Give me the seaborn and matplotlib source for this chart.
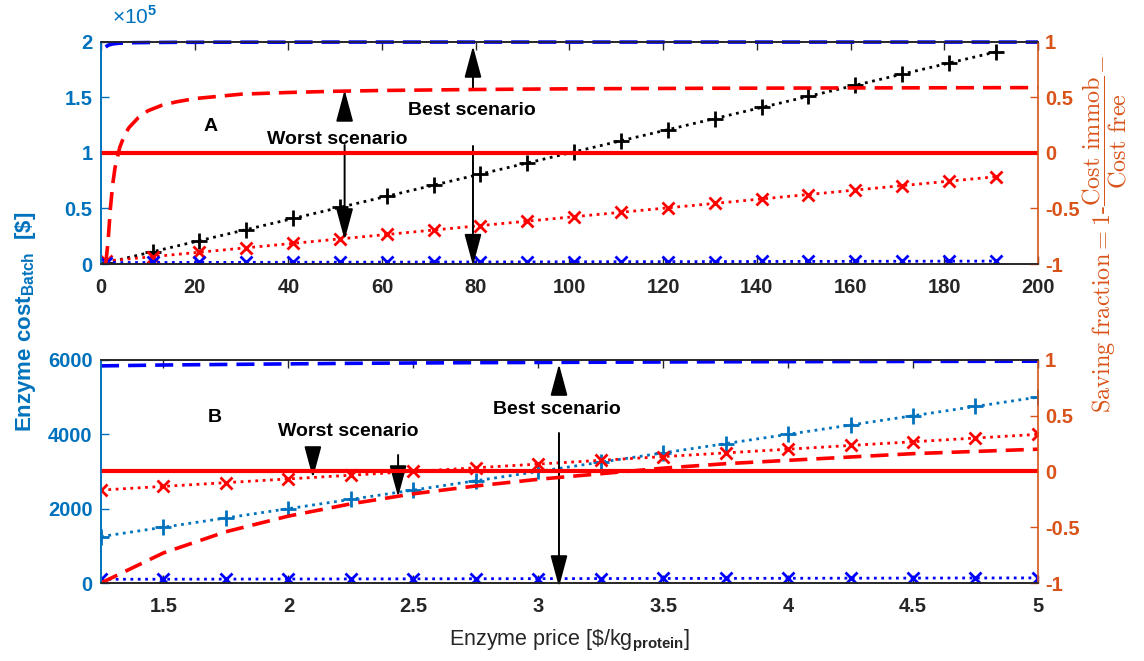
import matplotlib
matplotlib.use('Agg')
import matplotlib.pyplot as plt
from matplotlib.ticker import FuncFormatter
import seaborn as sns

# ---- panel A: enzyme price 0-200 $/kg ----
price_a = [1, 11, 21, 31, 41, 51, 61, 71, 81, 91, 101, 111, 121, 131, 141, 151, 161, 171, 181, 191]
cost_free_a = [1000, 11000, 21000, 31000, 41000, 51000, 61000, 71000, 81000, 91000,
               101000, 111000, 121000, 131000, 141000, 151000, 161000, 171000, 181000, 191000]
cost_worst_a = [2600, 6600, 10600, 14600, 18600, 22600, 26600, 30600, 34600, 38600,
                42600, 46600, 50600, 54600, 58600, 62600, 66600, 70600, 74600, 78600]
cost_best_a = [1300, 1370, 1440, 1500, 1570, 1640, 1710, 1780, 1850, 1910,
               1980, 2050, 2120, 2190, 2260, 2320, 2390, 2460, 2530, 2600]
curve_a = [1, 1.5, 2, 2.5, 3, 4, 5, 6, 8, 10, 13, 16, 20, 25, 30, 40, 50, 60, 80, 100, 130, 160, 200]
saving_worst_a = [-1.0, -0.8, -0.5, -0.28, -0.13, 0.05, 0.16, 0.23, 0.32, 0.38, 0.43, 0.46,
                  0.49, 0.51, 0.53, 0.545, 0.556, 0.563, 0.572, 0.578, 0.583, 0.586, 0.589]
saving_best_a = [0.955, 0.97, 0.977, 0.982, 0.985, 0.989, 0.991, 0.993, 0.994, 0.995, 0.996, 0.997,
                 0.997, 0.998, 0.998, 0.998, 0.999, 0.999, 0.999, 0.999, 0.999, 0.999, 0.999]

# ---- panel B: enzyme price 1.25-5 $/kg ----
price_b = [1.25, 1.5, 1.75, 2, 2.25, 2.5, 2.75, 3, 3.25, 3.5, 3.75, 4, 4.25, 4.5, 4.75, 5]
cost_free_b = [1250, 1500, 1750, 2000, 2250, 2500, 2750, 3000, 3250, 3500, 3750, 4000, 4250, 4500, 4750, 5000]
cost_worst_b = [2500, 2600, 2700, 2800, 2900, 3000, 3100, 3200, 3300, 3400, 3500, 3600, 3700, 3800, 3900, 4000]
cost_best_b = [100, 102, 105, 107, 110, 112, 115, 117, 120, 122, 125, 127, 130, 132, 135, 137]
saving_worst_b = [-1.0, -0.73, -0.54, -0.4, -0.29, -0.2, -0.13, -0.07, -0.02, 0.03, 0.07, 0.1, 0.13, 0.16, 0.18, 0.2]
saving_best_b = [0.947, 0.955, 0.96, 0.965, 0.97, 0.973, 0.976, 0.978, 0.98, 0.982, 0.984, 0.985,
                 0.986, 0.987, 0.988, 0.989]

BLUE_AX = '#0072BD'
ORANGE = '#D95319'
RED = '#FF0000'
BLUE = '#0000FF'
DARK = '#262626'

sns.set_theme(style='white')
plt.rcParams['font.family'] = ['Liberation Sans', 'DejaVu Sans']
plt.rcParams['font.weight'] = 'bold'
plt.rcParams['axes.unicode_minus'] = False
plt.rcParams['mathtext.fontset'] = 'custom'
plt.rcParams['mathtext.rm'] = 'Liberation Sans'
plt.rcParams['mathtext.bf'] = 'Liberation Sans:bold'

fig = plt.figure(figsize=(11.44, 6.61), dpi=100)
ax_a = fig.add_axes([0.0883, 0.6006, 0.819, 0.3359])
ax_b = fig.add_axes([0.0883, 0.1180, 0.819, 0.3374])

DASH = (0, (5, 2.5))


def draw_panel(ax, price, free, worst, best, curve, sav_worst, sav_best, free_color):
    mk = dict(linestyle=':', linewidth=2.0, markeredgewidth=2.0)
    sns.lineplot(x=price, y=free, ax=ax, color=free_color, marker='+', markersize=11,
                 markeredgecolor=free_color, **mk)
    sns.lineplot(x=price, y=worst, ax=ax, color=RED, marker='x', markersize=8.5,
                 markeredgecolor=RED, **mk)
    sns.lineplot(x=price, y=best, ax=ax, color=BLUE, marker='x', markersize=8.5,
                 markeredgecolor=BLUE, **mk)

    ax2 = ax.twinx()
    ax2.axhline(0, color=RED, linewidth=3)
    sns.lineplot(x=curve, y=sav_worst, ax=ax2, color=RED, linestyle=DASH, linewidth=2.6)
    sns.lineplot(x=curve, y=sav_best, ax=ax2, color=BLUE, linestyle=DASH, linewidth=2.6,
                 clip_on=False)
    ax2.set_ylim(-1, 1)
    ax2.set_yticks([-1, -0.5, 0, 0.5, 1])
    ax2.yaxis.set_major_formatter(FuncFormatter(lambda v, p: f'{v:g}'))

    # MATLAB-like axes styling
    ax.tick_params(axis='x', direction='in', top=True, bottom=True, length=6, width=1,
                   colors=DARK, labelsize=14.5, pad=10)
    ax.tick_params(axis='y', direction='in', left=True, right=False, length=6, width=1,
                   colors=BLUE_AX, labelsize=14.5, pad=6)
    ax2.tick_params(axis='y', direction='in', right=True, length=6, width=1,
                    colors=ORANGE, labelsize=14.5, pad=5)
    for a in (ax, ax2):
        a.spines['top'].set_color(DARK)
        a.spines['bottom'].set_color(DARK)
        a.spines['left'].set_color(BLUE_AX)
        a.spines['right'].set_color(ORANGE)
        for s in a.spines.values():
            s.set_linewidth(1.2)
        a.grid(False)
    ax.spines['right'].set_visible(False)
    return ax2


ax2_a = draw_panel(ax_a, price_a, cost_free_a, cost_worst_a, cost_best_a,
                   curve_a, saving_worst_a, saving_best_a, 'black')
ax2_b = draw_panel(ax_b, price_b, cost_free_b, cost_worst_b, cost_best_b,
                   price_b, saving_worst_b, saving_best_b, BLUE_AX)

ax_a.set_xlim(0, 200)
ax_a.set_xticks(range(0, 201, 20))
ax_a.set_ylim(0, 2e5)
ax_a.set_yticks([0, 5e4, 1e5, 1.5e5, 2e5])
ax_a.yaxis.set_major_formatter(FuncFormatter(lambda v, p: f'{v / 1e5:g}'))
ax_a.text(0.012, 1.065, r'×10$^{5}$', transform=ax_a.transAxes, color=BLUE_AX,
          fontsize=15, fontweight='normal', ha='left', va='bottom')

ax_b.set_xlim(1.25, 5)
ax_b.set_xticks([1.5, 2, 2.5, 3, 3.5, 4, 4.5, 5])
ax_b.xaxis.set_major_formatter(FuncFormatter(lambda v, p: f'{v:g}'))
ax_b.set_ylim(0, 6000)
ax_b.set_yticks([0, 2000, 4000, 6000])

ann = dict(fontsize=14, fontweight='bold', color='black', ha='center', va='center')
arrow = dict(arrowstyle='-|>,head_length=1.3,head_width=0.35', color='black', lw=1.4,
             shrinkA=0, shrinkB=0, mutation_scale=15)

# panel A labels and arrows
ax_a.text(23.3, 124000, 'A', **ann)
ax_a.text(50.4, 112600, 'Worst scenario', **ann)
ax_a.text(79.2, 138700, 'Best scenario', **ann)
ax_a.annotate('', xy=(52, 21600), xytext=(52, 107200), arrowprops=arrow, annotation_clip=False)
ax_a.annotate('', xy=(52, 156800), xytext=(52, 131500), arrowprops=arrow, annotation_clip=False)
ax_a.annotate('', xy=(79.4, 196400), xytext=(79.4, 158600), arrowprops=arrow, annotation_clip=False)
ax_a.annotate('', xy=(79.4, -1500), xytext=(79.4, 106300), arrowprops=arrow, annotation_clip=False)

# panel B labels and arrows
ax_b.text(1.706, 4440, 'B', **ann)
ax_b.text(2.238, 4063, 'Worst scenario', **ann)
ax_b.text(3.075, 4655, 'Best scenario', **ann)
ax_b.annotate('', xy=(2.098, 2825), xytext=(2.098, 3443), arrowprops=arrow, annotation_clip=False)
ax_b.annotate('', xy=(2.439, 2313), xytext=(2.439, 3443), arrowprops=arrow, annotation_clip=False)
ax_b.annotate('', xy=(3.083, 5891), xytext=(3.083, 5246), arrowprops=arrow, annotation_clip=False)
ax_b.annotate('', xy=(3.083, -108), xytext=(3.083, 4035), arrowprops=arrow, annotation_clip=False)

ax_b.set_xlabel(r'Enzyme price [\$/kg$_{\mathrm{protein}}$]', fontsize=15.5, fontweight='normal',
                color=DARK, labelpad=9)

fig.text(0.022, 0.513, r'Enzyme cost$_{\mathbf{Batch}}$  [\$]', rotation=90, ha='center',
         va='center', color=BLUE_AX, fontsize=16, fontweight='bold')
fig.text(0.966, 0.648,
         r'$\mathrm{Saving\ fraction} = 1\text{-}\dfrac{\mathrm{Cost\ immob}}{\mathrm{Cost\ free}}\left[-\right]$',
         rotation=90, ha='center', va='center', color=ORANGE, fontsize=17.5, math_fontfamily='cm')

fig.savefig('out.png', dpi=100)
